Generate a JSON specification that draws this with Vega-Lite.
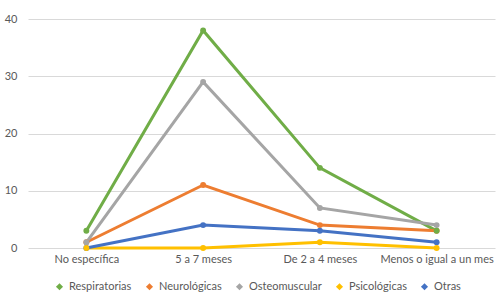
{
  "$schema": "https://vega.github.io/schema/vega-lite/v6.json",
  "width": 467,
  "height": 229,
  "autosize": {"type": "none"},
  "padding": {"left": 28, "top": 19, "right": 5, "bottom": 52},
  "background": "white",
  "config": {
    "view": {"stroke": null},
    "font": "Lato",
    "axis": {"labelFont": "Lato", "labelColor": "#595959", "labelFontSize": 11}
  },
  "data": {
    "values": [
      {"cat": "No específica", "serie": "Respiratorias", "v": 3},
      {"cat": "5 a 7 meses", "serie": "Respiratorias", "v": 38},
      {"cat": "De 2 a 4 meses", "serie": "Respiratorias", "v": 14},
      {"cat": "Menos o igual a un mes", "serie": "Respiratorias", "v": 3},
      {"cat": "No específica", "serie": "Neurológicas", "v": 1},
      {"cat": "5 a 7 meses", "serie": "Neurológicas", "v": 11},
      {"cat": "De 2 a 4 meses", "serie": "Neurológicas", "v": 4},
      {"cat": "Menos o igual a un mes", "serie": "Neurológicas", "v": 3},
      {"cat": "No específica", "serie": "Osteomuscular", "v": 1},
      {"cat": "5 a 7 meses", "serie": "Osteomuscular", "v": 29},
      {"cat": "De 2 a 4 meses", "serie": "Osteomuscular", "v": 7},
      {"cat": "Menos o igual a un mes", "serie": "Osteomuscular", "v": 4},
      {"cat": "No específica", "serie": "Psicológicas", "v": 0},
      {"cat": "5 a 7 meses", "serie": "Psicológicas", "v": 0},
      {"cat": "De 2 a 4 meses", "serie": "Psicológicas", "v": 1},
      {"cat": "Menos o igual a un mes", "serie": "Psicológicas", "v": 0},
      {"cat": "No específica", "serie": "Otras", "v": 0},
      {"cat": "5 a 7 meses", "serie": "Otras", "v": 4},
      {"cat": "De 2 a 4 meses", "serie": "Otras", "v": 3},
      {"cat": "Menos o igual a un mes", "serie": "Otras", "v": 1}
    ]
  },
  "encoding": {
    "x": {
      "field": "cat", "type": "nominal",
      "sort": ["No específica", "5 a 7 meses", "De 2 a 4 meses", "Menos o igual a un mes"],
      "scale": {"paddingInner": 0, "paddingOuter": 0},
      "axis": {"title": null, "labelAngle": 0, "ticks": false, "domain": false, "labelPadding": 5}
    },
    "y": {
      "field": "v", "type": "quantitative",
      "scale": {"domain": [0, 40], "nice": false},
      "axis": {"title": null, "values": [0, 10, 20, 30, 40], "ticks": false, "domain": false, "gridColor": "#d9d9d9", "gridWidth": 1, "labelPadding": 11}
    },
    "color": {
      "field": "serie", "type": "nominal",
      "sort": ["Respiratorias", "Neurológicas", "Osteomuscular", "Psicológicas", "Otras"],
      "scale": {
        "domain": ["Respiratorias", "Neurológicas", "Osteomuscular", "Psicológicas", "Otras"],
        "range": ["#70AD47", "#ED7D31", "#A5A5A5", "#FFC000", "#4472C4"]
      },
      "legend": {
        "title": null, "orient": "none", "direction": "horizontal",
        "legendX": 26, "legendY": 262,
        "symbolType": "diamond", "symbolSize": 50, "symbolStrokeWidth": 0,
        "labelFont": "Lato", "labelFontSize": 11, "labelColor": "#595959",
        "columnPadding": 12
      }
    },
    "order": {"field": "serie"}
  },
  "layer": [
    {"mark": {"type": "line", "strokeWidth": 3}},
    {"mark": {"type": "point", "filled": true, "size": 35, "opacity": 1, "shape": "circle"}}
  ]
}
